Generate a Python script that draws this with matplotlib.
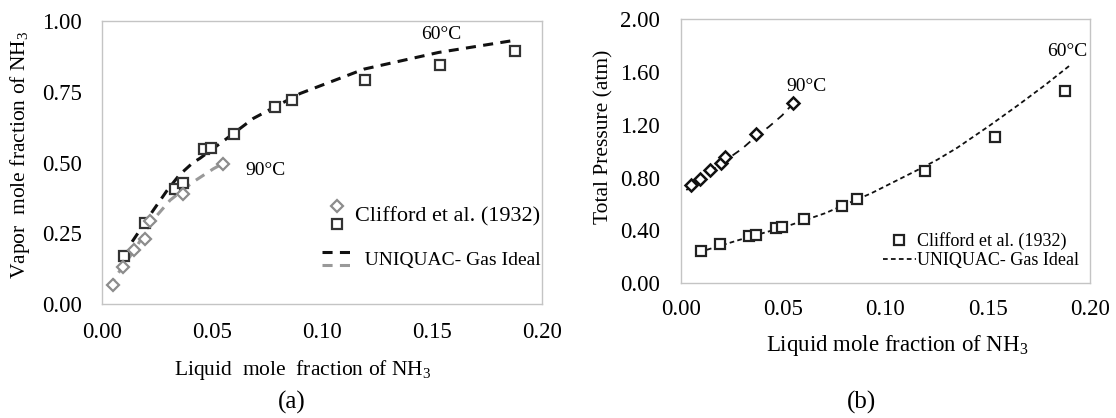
import matplotlib
matplotlib.use("Agg")
import matplotlib.pyplot as plt
from matplotlib.lines import Line2D
from matplotlib.legend_handler import HandlerBase

plt.rcParams['font.family'] = 'Liberation Serif'
plt.rcParams['mathtext.fontset'] = 'custom'
plt.rcParams['mathtext.rm'] = 'Liberation Serif'

# Clifford et al. (1932) experimental points
x_60 = [0.0096, 0.0193, 0.0331, 0.0365, 0.0464, 0.0492, 0.0600, 0.0785, 0.0863, 0.1195, 0.1537, 0.1878]
y_60 = [0.170, 0.288, 0.406, 0.429, 0.548, 0.553, 0.601, 0.696, 0.722, 0.790, 0.843, 0.893]
p_60 = [0.247, 0.295, 0.361, 0.366, 0.421, 0.429, 0.487, 0.585, 0.636, 0.847, 1.107, 1.455]

x_90 = [0.0047, 0.0095, 0.0143, 0.0194, 0.0217, 0.0367, 0.0550]
y_90 = [0.067, 0.130, 0.192, 0.230, 0.295, 0.388, 0.495]
p_90 = [0.744, 0.789, 0.855, 0.908, 0.953, 1.130, 1.362]

# UNIQUAC - ideal gas model curves
xm_y60 = [0.0135, 0.0232, 0.0293, 0.0350, 0.0411, 0.0444, 0.0566, 0.0687, 0.0900, 0.1190, 0.1530, 0.1885]
ym_y60 = [0.220, 0.332, 0.400, 0.456, 0.499, 0.515, 0.585, 0.656, 0.744, 0.830, 0.889, 0.933]
xm_y90 = [0.0028, 0.0095, 0.0150, 0.0217, 0.0308, 0.0414, 0.0505, 0.0550]
ym_y90 = [0.060, 0.135, 0.195, 0.285, 0.367, 0.432, 0.478, 0.497]

xm_p60 = [0.0092, 0.0123, 0.0284, 0.0526, 0.0704, 0.0930, 0.1173, 0.1253, 0.1350, 0.1506, 0.1650, 0.1780, 0.1900]
pm_p60 = [0.227, 0.252, 0.328, 0.436, 0.530, 0.681, 0.870, 0.935, 1.025, 1.190, 1.350, 1.500, 1.647]
xm_p90 = [0.0026, 0.0092, 0.0190, 0.0300, 0.0366, 0.0430, 0.0494, 0.0556]
pm_p90 = [0.706, 0.780, 0.900, 1.020, 1.110, 1.185, 1.270, 1.374]

xticks = [0.0, 0.05, 0.10, 0.15, 0.20]
yticks_a = [0.0, 0.25, 0.50, 0.75, 1.00]
yticks_b = [0.0, 0.4, 0.8, 1.2, 1.6, 2.0]


class StackHandler(HandlerBase):
    # draws the handles of a tuple one above the other
    def __init__(self, gap, **kw):
        super().__init__(**kw)
        self.gap = gap

    def create_artists(self, legend, orig_handle, xdescent, ydescent,
                       width, height, fontsize, trans):
        arts = []
        n = len(orig_handle)
        yc = height / 2 - ydescent
        for i, h in enumerate(orig_handle):
            y = yc + self.gap * ((n - 1) / 2 - i)
            if h.get_linestyle() in ('None', 'none', ''):
                a = Line2D([width / 2 - xdescent], [y])
            else:
                a = Line2D([-xdescent, width - xdescent], [y, y])
            a.update_from(h)
            a.set_transform(trans)
            arts.append(a)
        return arts


def style_axes(ax, ylim, yticks, xpad):
    ax.set_xlim(0, 0.2)
    ax.set_ylim(*ylim)
    ax.set_xticks(xticks)
    ax.set_xticklabels(["%.2f" % v for v in xticks])
    ax.set_yticks(yticks)
    ax.set_yticklabels(["%.2f" % v for v in yticks])
    for s in ax.spines.values():
        s.set_color('#c4c4c4')
        s.set_linewidth(1.0)
    ax.tick_params(axis='y', length=0, pad=15, labelsize=16.5)
    ax.tick_params(axis='x', length=0, pad=xpad, labelsize=16.5)


fig = plt.figure(figsize=(11.16, 4.18), dpi=100)

# ---- (a) vapor composition
ax1 = fig.add_axes([0.0918, 0.2727, 0.3938, 0.6770])
l60, = ax1.plot(xm_y60, ym_y60, color='#111111', lw=2.2, dashes=(3.3, 2.4))
l90, = ax1.plot(xm_y90, ym_y90, color='#999999', lw=2.2, dashes=(3.3, 2.4))
s60, = ax1.plot(x_60, y_60, 's', ms=7.3, mfc='white', mec='#333333', mew=1.6, ls='None')
d90, = ax1.plot(x_90, y_90, 'D', ms=6, mfc='white', mec='#8c8c8c', mew=1.6, ls='None')
ax1.text(0.1544, 0.953, "60°C", fontsize=14, ha='center', va='center')
ax1.text(0.0740, 0.473, "90°C", fontsize=14, ha='center', va='center')
style_axes(ax1, (0, 1), yticks_a, 13)

h_pts = (d90, s60)
h_lin = (l60, l90)
leg1 = ax1.legend([h_pts, h_lin], ["Clifford et al. (1932)", "  UNIQUAC- Gas Ideal"],
                  handler_map={h_pts: StackHandler(13.2), h_lin: StackHandler(9.1)},
                  loc='upper left', bbox_to_anchor=(0.499, 0.3675), frameon=False,
                  borderpad=0, borderaxespad=0, fontsize=14, handlelength=1.52,
                  handleheight=2.0, handletextpad=0.2, labelspacing=0.7)
leg1.get_texts()[0].set_fontsize(16)

# ---- (b) total pressure
ax2 = fig.add_axes([0.6102, 0.3222, 0.3665, 0.6323])
m90, = ax2.plot(xm_p90, pm_p90, color='#111111', lw=1.3, dashes=(4.5, 3.5))
m60, = ax2.plot(xm_p60, pm_p60, color='#111111', lw=1.3, dashes=(2.6, 1.8))
q60, = ax2.plot(x_60, p_60, 's', ms=7, mfc='white', mec='#222222', mew=1.6, ls='None')
ax2.plot(x_90, p_90, 'D', ms=6.5, mfc='white', mec='#111111', mew=1.8, ls='None')
ax2.text(0.0615, 1.493, "90°C", fontsize=14, ha='center', va='center')
ax2.text(0.1890, 1.752, "60°C", fontsize=14, ha='center', va='center')
style_axes(ax2, (0, 2), yticks_b, 11.5)
ax2.legend([q60, m60], ["Clifford et al. (1932)", "UNIQUAC- Gas Ideal"],
           loc='upper left', bbox_to_anchor=(0.4927, 0.193), frameon=False,
           borderpad=0, borderaxespad=0, fontsize=13, handlelength=1.83,
           handletextpad=0.1, labelspacing=0.1, numpoints=1)

# axis titles and panel letters
fig.text(20.5 / 1116, 1 - 155 / 418, "Vapor  mole fraction of NH$_{\\mathrm{3}}$",
         rotation=90, ha='center', va='center', fontsize=15.5)
fig.text(303 / 1116, 1 - 370 / 418, "Liquid  mole  fraction of NH$_{\\mathrm{3}}$",
         ha='center', va='center', fontsize=15.5)
fig.text(292 / 1116, 1 - 402 / 418, "(a)", ha='center', va='center', fontsize=18)

fig.text(604 / 1116, 1 - 137 / 418, "Total Pressure (atm)",
         rotation=90, ha='center', va='center', fontsize=15.5)
fig.text(897 / 1116, 1 - 345 / 418, "Liquid mole fraction of NH$_{\\mathrm{3}}$",
         ha='center', va='center', fontsize=16.5)
fig.text(862 / 1116, 1 - 402 / 418, "(b)", ha='center', va='center', fontsize=18)

fig.savefig("out.png", dpi=100)
